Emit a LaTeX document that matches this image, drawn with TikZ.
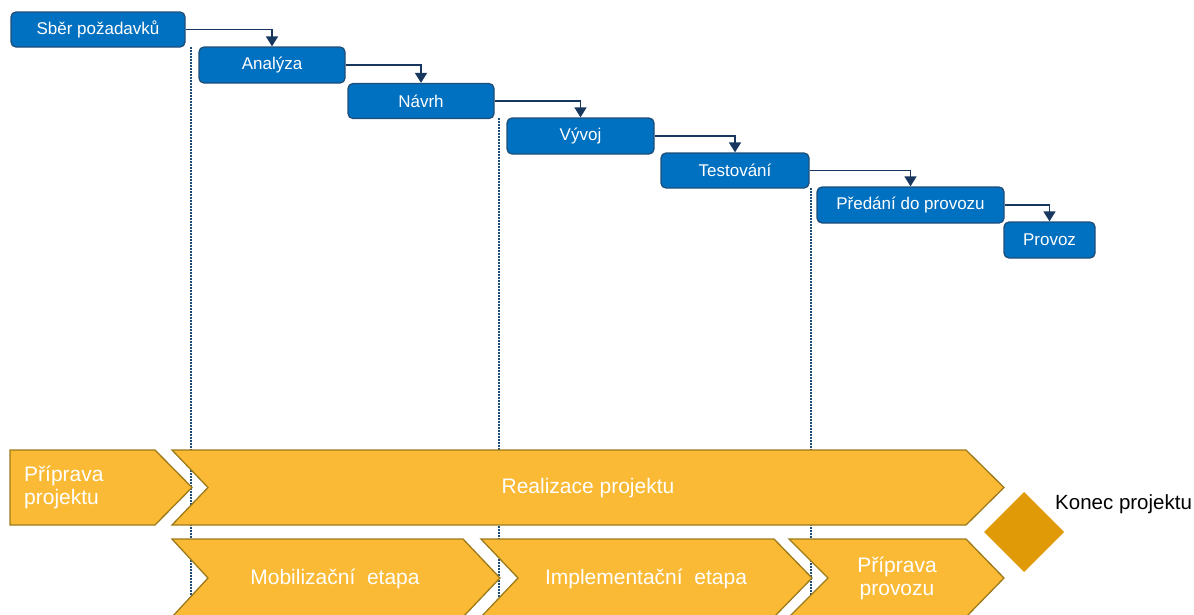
\documentclass[tikz,border=0pt]{standalone}
\usepackage{fontspec}
\setmainfont{Liberation Sans}
\usetikzlibrary{arrows.meta}
\definecolor{boxblue}{HTML}{0070C0}
\definecolor{boxedge}{HTML}{1F4E79}
\definecolor{arrowc}{HTML}{17375E}
\definecolor{chev}{HTML}{FBBA35}
\definecolor{chevedge}{HTML}{9C7A1A}
\definecolor{diam}{HTML}{E09A08}
\definecolor{dotc}{HTML}{1F4E79}
\begin{document}
\begin{tikzpicture}[x=1pt,y=-1pt,
  phase/.style={draw=boxedge, line width=1.3pt, fill=boxblue, rounded corners=5pt, text=white,
    font=\fontsize{17}{20}\selectfont, inner sep=0pt, minimum height=35pt},
  flow/.style={draw=arrowc, line width=1.7pt, -{Triangle[width=12pt,length=10pt]}},
  guide/.style={draw=dotc, line width=1.8pt, dash pattern=on 1.6pt off 1.4pt},
  stage/.style={fill=chev, draw=chevedge, line width=1.3pt},
  stagetext/.style={text=white, font=\fontsize{21}{23}\selectfont, inner sep=0pt, align=center}]
\useasboundingbox (0,0) rectangle (1194,614);

% phase boxes
\node[phase, minimum width=174pt] (s1) at (98,29.5) {Sběr požadavků};
\node[phase, minimum width=146pt, minimum height=36pt] (s2) at (272,65) {Analýza};
\node[phase, minimum width=146pt] (s3) at (421,101) {Návrh};
\node[phase, minimum width=147pt, minimum height=36pt] (s4) at (580.5,136) {Vývoj};
\node[phase, minimum width=148pt] (s5) at (735,170.5) {Testování};
\node[phase, minimum width=187pt, minimum height=36pt] (s6) at (910.5,205) {Předání do provozu};
\node[phase, minimum width=91pt, minimum height=36pt] (s7) at (1049.5,240) {Provoz};

% connectors
\draw[flow] (s1.east) -| (s2.north);
\draw[flow] (s2.east) -| (s3.north);
\draw[flow] (s3.east) -| (s4.north);
\draw[flow] (s4.east) -| (s5.north);
\draw[flow] (s5.east) -| (s6.north);
\draw[flow] (s6.east) -| (s7.north);

% dotted guides
\coordinate (g1a) at (191,47);  \coordinate (g1b) at (191,614);
\coordinate (g2a) at (499,118); \coordinate (g2b) at (499,614);
\coordinate (g3a) at (811,188); \coordinate (g3b) at (811,614);
\draw[guide] (g1a) -- (g1b);
\draw[guide] (g2a) -- (g2b);
\draw[guide] (g3a) -- (g3b);

% row 1 chevrons
\draw[stage] (10,450) -- (155,450) -- (192,487.5) -- (155,525) -- (10,525) -- cycle;
\draw[stage] (172,450) -- (966,450) -- (1004,487.5) -- (966,525) -- (172,525) -- (208,487.5) -- cycle;
% row 2 chevrons
\draw[stage] (172,539) -- (463,539) -- (500,578) -- (463,617) -- (172,617) -- (208,578) -- cycle;
\draw[stage] (481,539) -- (774,539) -- (812,578) -- (774,617) -- (481,617) -- (518,578) -- cycle;
\draw[stage] (789,539) -- (966,539) -- (1004,578) -- (966,617) -- (789,617) -- (828,578) -- cycle;

\node[stagetext, align=left, anchor=west] (t1) at (24,487) {Příprava\\projektu};
\node[stagetext] (t2) at (588,488) {Realizace projektu};
\node[stagetext] (t3) at (335,579) {Mobilizační\ \ etapa};
\node[stagetext] (t4) at (646,579) {Implementační\ \ etapa};
\node[stagetext] (t5) at (897,578) {Příprava\\provozu};

% end milestone
\fill[diam] (1024,492) -- (1064,532) -- (1024,572) -- (984,532) -- cycle;
\node[font=\fontsize{20.5}{23}\selectfont, inner sep=0pt, anchor=west] (end) at (1055,504) {Konec projektu};
\end{tikzpicture}
\end{document}
